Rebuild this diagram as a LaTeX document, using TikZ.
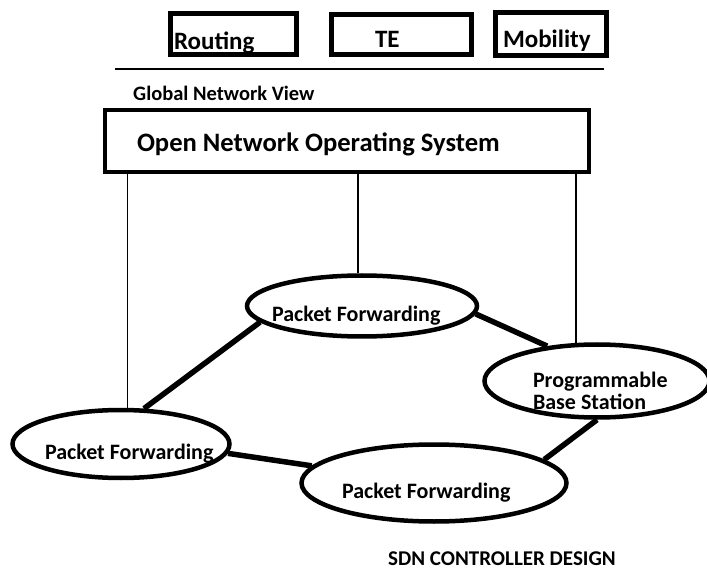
\documentclass[tikz,border=0pt]{standalone}
\usepackage{fontspec}
\setmainfont{Carlito}
\usetikzlibrary{positioning,shapes.geometric}

\begin{document}
\begin{tikzpicture}[x=1pt, y=-1pt,
    app/.style={rectangle, draw=black, line width=5pt, align=flush left, inner ysep=0pt,
              text depth=0pt, font=\bfseries\fontsize{25}{28}\selectfont},
    os/.style={rectangle, draw=black, line width=4.5pt, align=flush left,
              font=\bfseries\fontsize{26.6}{30}\selectfont},
    fwd/.style={ellipse, draw=black, line width=4.5pt, inner xsep=-20pt, inner ysep=-5pt,
              align=flush left, text height=36pt, text depth=5pt, font=\bfseries\fontsize{22}{23}\selectfont},
    lnk/.style={line width=5.5pt},
    tie/.style={line width=1.3pt},
    caption/.style={anchor=base west, inner sep=0pt, font=\bfseries\fontsize{21}{24}\selectfont}
]
    \useasboundingbox (0,0) rectangle (707,569);

    % applications on top
    \node[app, minimum width=126pt, minimum height=41pt, inner xsep=4pt, text width=118pt,
          text height=31pt] (routing) at (233,34.5) {Routing};
    \node[app, right=30pt of routing, minimum width=140pt, minimum height=40pt, inner xsep=44pt,
          text width=52pt, text height=26pt] (te) {TE};
    \node[app, right=19pt of te, minimum width=111pt, minimum height=43pt, inner xsep=8pt,
          text width=95pt, text height=27pt] (mobility) {Mobility};
    \draw[line width=1.8pt] (115,69) -- (604,69);

    % controller
    \node[caption, font=\bfseries\fontsize{20.5}{24}\selectfont] (view) at (133,101) {Global Network View};
    \node[os, minimum width=484pt, minimum height=62pt, inner xsep=32pt, text width=420pt,
          text height=29pt, text depth=7pt] (onos) at (347,141) {Open Network Operating System};

    % forwarding elements
    \node[fwd, minimum width=230pt, minimum height=61pt, text width=180pt] (fwdtop) at (362,306) {Packet\ Forwarding};
    \node[fwd, minimum width=225pt, minimum height=73pt, text width=128pt,
          inner ysep=-15pt, text height=40pt, text depth=28pt] (pbs) at (597,381) {Programmable\\Base Station};
    \node[fwd, minimum width=217pt, minimum height=68pt, text width=152pt] (fwdleft) at (121,444) {\mbox{Packet Forwarding}};
    \node[fwd, minimum width=265pt, minimum height=77pt, text width=184pt] (fwdbottom) at (434,483) {Packet Forwarding};

    \draw[lnk] (fwdtop.189) -- (fwdleft.57);
    \draw[lnk] (fwdtop.356) -- (pbs.145);
    \draw[lnk] (fwdleft.355) -- (fwdbottom.172);
    \draw[lnk] (pbs.270) -- (fwdbottom.12);

    \draw[tie] (fwdleft.80) -- (fwdleft.80 |- onos.south);
    \draw[tie] (fwdtop.97) -- (fwdtop.97 |- onos.south);
    \draw[tie] (pbs.119) -- (pbs.119 |- onos.south);

    \node[caption] (title) at (388,565) {SDN CONTROLLER DESIGN};
\end{tikzpicture}
\end{document}
